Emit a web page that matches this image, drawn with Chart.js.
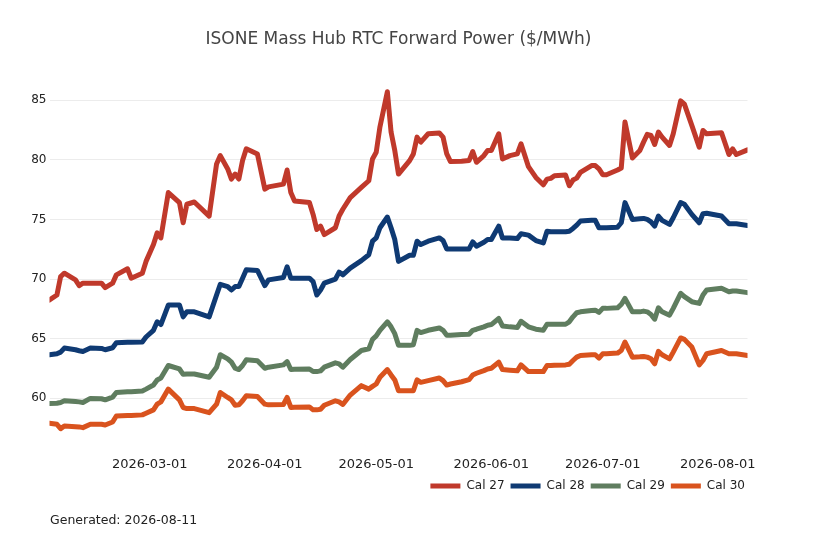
<!DOCTYPE html>
<html>
<head>
<meta charset="utf-8">
<title>ISONE Mass Hub RTC Forward Power</title>
<script src="https://cdn.jsdelivr.net/npm/chart.js@4.4.1/dist/chart.umd.min.js"></script>
<style>
  html, body { margin: 0; padding: 0; background: #fff; }
  #wrap { position: relative; width: 818px; height: 545px; }
  #note {
    position: absolute; left: 50px; top: 512px;
    font-family: "DejaVu Sans", sans-serif; font-size: 12.5px; color: #222;
  }
</style>
</head>
<body>
<div id="wrap">
  <canvas id="fwdChart"></canvas>
  <div id="note">Generated: 2026-08-11</div>
</div>
<script>
// trade dates
const dates = [
  "2026-02-02","2026-02-04","2026-02-05","2026-02-06","2026-02-09","2026-02-10","2026-02-11","2026-02-13","2026-02-16","2026-02-17",
  "2026-02-19","2026-02-20","2026-02-23","2026-02-24","2026-02-27","2026-02-28","2026-03-02","2026-03-03","2026-03-04","2026-03-06",
  "2026-03-09","2026-03-10","2026-03-11","2026-03-13","2026-03-17","2026-03-19","2026-03-20","2026-03-22","2026-03-23","2026-03-24",
  "2026-03-25","2026-03-26","2026-03-27","2026-03-30","2026-04-01","2026-04-02","2026-04-06","2026-04-07","2026-04-08","2026-04-09",
  "2026-04-13","2026-04-14","2026-04-15","2026-04-16","2026-04-17","2026-04-20","2026-04-21","2026-04-22","2026-04-24","2026-04-27",
  "2026-04-29","2026-04-30","2026-05-01","2026-05-02","2026-05-04","2026-05-05","2026-05-06","2026-05-07","2026-05-10","2026-05-11",
  "2026-05-12","2026-05-13","2026-05-15","2026-05-18","2026-05-19","2026-05-20","2026-05-21","2026-05-24","2026-05-26","2026-05-27",
  "2026-05-28","2026-05-30","2026-05-31","2026-06-01","2026-06-03","2026-06-04","2026-06-06","2026-06-08","2026-06-09","2026-06-11",
  "2026-06-13","2026-06-15","2026-06-16","2026-06-17","2026-06-18","2026-06-21","2026-06-22","2026-06-23","2026-06-24","2026-06-25",
  "2026-06-28","2026-06-29","2026-06-30","2026-07-01","2026-07-02","2026-07-05","2026-07-06","2026-07-07","2026-07-09","2026-07-11",
  "2026-07-12","2026-07-13","2026-07-14","2026-07-15","2026-07-16","2026-07-17","2026-07-19","2026-07-20","2026-07-22","2026-07-23",
  "2026-07-25","2026-07-27","2026-07-28","2026-07-29","2026-08-02","2026-08-04","2026-08-05","2026-08-06","2026-08-09"
];

const cal27 = [
  68.24,68.66,70.21,70.49,69.93,69.45,69.65,69.65,69.65,69.28,
  69.65,70.35,70.86,70.07,70.49,71.48,72.89,73.87,73.45,77.25,
  76.41,74.72,76.27,76.46,75.28,79.65,80.35,79.23,78.38,78.80,
  78.38,79.93,80.92,80.49,77.54,77.73,77.96,79.14,77.25,76.55,
  76.41,75.42,74.15,74.44,73.73,74.30,75.28,75.85,76.83,77.68,
  78.24,80.07,80.63,82.75,85.70,82.32,80.77,78.80,79.93,80.49,
  81.90,81.48,82.18,82.24,81.90,80.49,79.85,79.87,79.93,80.69,
  79.79,80.35,80.77,80.77,82.18,80.07,80.35,80.49,81.34,79.42,
  78.52,77.90,78.38,78.44,78.66,78.72,77.82,78.30,78.46,78.94,
  79.51,79.51,79.23,78.75,78.75,79.14,79.31,83.17,80.15,80.77,
  81.48,82.13,82.04,81.28,82.32,81.90,81.20,82.18,84.94,84.66,
  82.89,81.06,82.46,82.18,82.27,80.44,80.92,80.44,80.83
];

const cal28 = [
  63.65,63.73,63.87,64.21,64.07,63.99,63.93,64.21,64.18,64.07,
  64.24,64.66,64.69,64.69,64.72,65.14,65.70,66.41,66.18,67.82,
  67.82,66.83,67.25,67.25,66.83,68.66,69.56,69.37,69.08,69.37,
  69.37,70.07,70.77,70.72,69.45,69.93,70.13,71.03,70.07,70.07,
  70.07,69.79,68.66,69.08,69.65,69.99,70.58,70.35,70.92,71.54,
  72.04,73.17,73.45,74.30,75.20,74.30,73.31,71.48,71.99,71.99,
  73.17,72.89,73.17,73.45,73.23,72.52,72.52,72.52,72.52,73.11,
  72.75,73.08,73.31,73.31,74.44,73.45,73.45,73.39,73.79,73.68,
  73.23,73.03,74.01,73.96,73.96,73.96,74.01,74.24,74.52,74.86,
  74.92,74.92,74.30,74.30,74.30,74.35,74.72,76.41,75.00,75.06,
  75.08,75.00,74.80,74.44,75.28,74.92,74.58,75.14,76.41,76.27,
  75.42,74.72,75.48,75.51,75.28,74.63,74.63,74.63,74.49
];

const cal29 = [
  59.56,59.59,59.65,59.79,59.73,59.70,59.65,59.99,59.96,59.87,
  60.10,60.49,60.55,60.55,60.61,60.77,61.11,61.54,61.70,62.75,
  62.46,62.01,62.04,62.04,61.76,62.61,63.65,63.31,63.03,62.52,
  62.41,62.75,63.23,63.14,62.52,62.61,62.80,63.08,62.41,62.44,
  62.46,62.24,62.24,62.30,62.61,62.97,62.89,62.61,63.25,64.01,
  64.15,64.94,65.23,65.70,66.41,65.99,65.42,64.44,64.44,64.49,
  65.70,65.51,65.70,65.90,65.70,65.28,65.28,65.34,65.37,65.70,
  65.79,65.99,66.13,66.18,66.69,66.07,65.99,65.93,66.46,65.99,
  65.79,65.70,66.21,66.21,66.21,66.21,66.41,66.83,67.17,67.25,
  67.37,67.39,67.20,67.54,67.54,67.59,67.87,68.38,67.25,67.25,
  67.31,67.25,67.03,66.63,67.59,67.25,66.97,67.54,68.80,68.52,
  68.10,67.96,68.66,69.08,69.23,68.94,69.00,69.00,68.86
];

const cal30 = [
  57.90,57.82,57.45,57.68,57.62,57.60,57.54,57.82,57.82,57.76,
  58.01,58.52,58.55,58.55,58.61,58.75,59.03,59.51,59.70,60.77,
  59.87,59.23,59.14,59.14,58.80,59.51,60.49,60.07,59.87,59.42,
  59.45,59.79,60.21,60.15,59.51,59.45,59.48,60.07,59.23,59.25,
  59.28,59.03,59.03,59.08,59.42,59.79,59.70,59.48,60.27,61.06,
  60.77,61.00,61.20,61.76,62.41,61.96,61.54,60.63,60.63,60.63,
  61.54,61.34,61.48,61.70,61.48,61.11,61.20,61.39,61.56,61.96,
  62.10,62.32,62.46,62.52,63.03,62.41,62.35,62.30,62.80,62.24,
  62.24,62.24,62.75,62.75,62.78,62.80,62.86,63.17,63.45,63.59,
  63.65,63.65,63.37,63.73,63.73,63.79,64.01,64.72,63.45,63.48,
  63.51,63.45,63.31,62.89,63.93,63.65,63.31,63.87,65.06,64.94,
  64.30,62.80,63.17,63.73,64.01,63.73,63.73,63.73,63.59
];

const seriesNames = ["Cal 27", "Cal 28", "Cal 29", "Cal 30"];
const seriesColors = ["#c0392b", "#0f3a73", "#5f7d5f", "#d9531e"];
const xTickDates = ["2026-03-01", "2026-04-01", "2026-05-01", "2026-06-01", "2026-07-01", "2026-08-01"];
const yTicks = [60, 65, 70, 75, 80, 85];

// ======================== HELPERS ========================

function toMs(s) {
  return Date.parse(s + "T00:00:00Z");
}

function fmtDate(ms) {
  return new Date(ms).toISOString().slice(0, 10);
}

function makeSeries(values) {
  return values.map((v, i) => ({ x: toMs(dates[i]), y: v }));
}

// nudge the legend a few px right so it ends at the plot edge like the original
const legendNudge = {
  id: "legendNudge",
  afterLayout(chart) {
    if (chart.legend) {
      chart.legend.left += 3.5;
      chart.legend.right += 3.5;
    }
  }
};

// ======================== CHART ========================

Chart.defaults.font.family = "'DejaVu Sans', sans-serif";
Chart.defaults.color = "#222";

const allSeries = [cal27, cal28, cal29, cal30];

const datasets = allSeries.map((vals, i) => ({
  label: seriesNames[i],
  data: makeSeries(vals),
  borderColor: seriesColors[i],
  backgroundColor: seriesColors[i],
  borderWidth: 5,
  borderJoinStyle: "round",
  borderCapStyle: "round",
  pointRadius: 0,
  tension: 0
}));

new Chart(document.getElementById("fwdChart"), {
  type: "line",
  data: { datasets },
  plugins: [legendNudge],
  options: {
    responsive: true,
    maintainAspectRatio: false,
    animation: false,
    layout: { padding: { left: 0, right: 70.5, top: 0, bottom: 43 } },
    scales: {
      x: {
        type: "linear",
        min: toMs(dates[0]),
        max: toMs(dates[dates.length - 1]),
        afterBuildTicks: (scale) => {
          scale.ticks = xTickDates.map((d) => ({ value: toMs(d) }));
        },
        afterFit: (scale) => { scale.height = 28; },
        ticks: {
          callback: (v) => fmtDate(v),
          font: { size: 13 },
          color: "#222",
          padding: 3,
          maxRotation: 0,
          autoSkip: false
        },
        grid: { display: false },
        border: { display: false }
      },
      y: {
        min: 56.0,
        max: 87.1,
        afterBuildTicks: (scale) => {
          scale.ticks = yTicks.map((v) => ({ value: v }));
        },
        afterFit: (scale) => { scale.width = 49.5; },
        ticks: { font: { size: 12 }, color: "#222", padding: 3 },
        grid: { color: "#ececec", drawTicks: false },
        border: { display: false }
      }
    },
    plugins: {
      title: {
        display: true,
        fullSize: false,
        text: "ISONE Mass Hub RTC Forward Power ($/MWh)",
        color: "#444",
        font: { size: 17, weight: "normal" },
        padding: { top: 29, bottom: 25.7 }
      },
      legend: {
        position: "bottom",
        align: "end",
        labels: {
          boxWidth: 30,
          boxHeight: 5,
          padding: 6,
          color: "#222",
          font: { size: 12 },
          generateLabels: (chart) =>
            Chart.defaults.plugins.legend.labels.generateLabels(chart).map((l) => ({ ...l, lineWidth: 0 }))
        }
      },
      tooltip: { enabled: false }
    }
  }
});
</script>
</body>
</html>
